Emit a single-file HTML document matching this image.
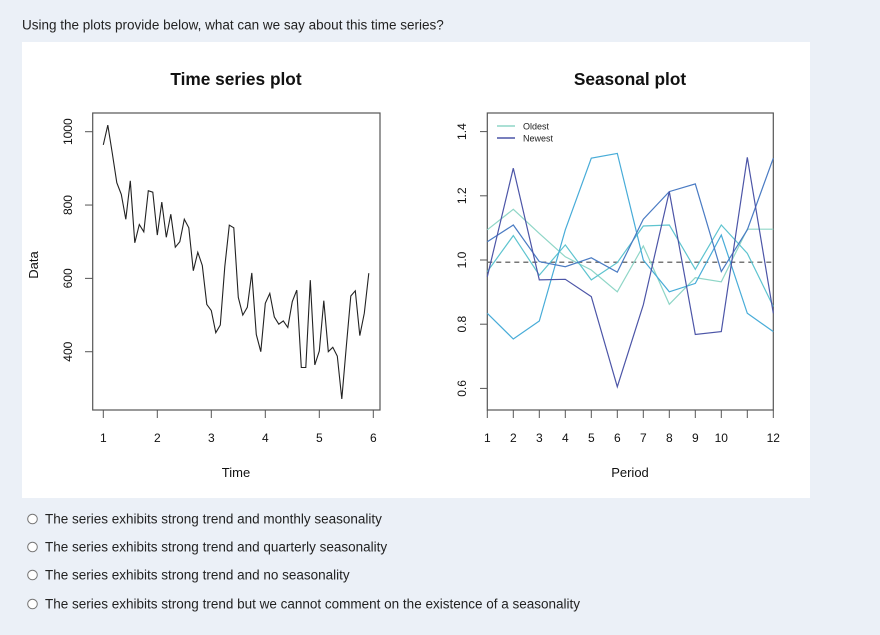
<!DOCTYPE html>
<html><head><meta charset="utf-8"><style>
html,body{margin:0;padding:0;background:#ebf0f7;}
svg{display:block;font-family:"Liberation Sans",Arial,sans-serif;}
</style></head><body>
<svg id="chart" width="880" height="635" viewBox="0 0 880 635">
<rect x="0" y="0" width="880" height="635" fill="#ebf0f7"/>
<text x="22" y="29.5" font-size="13.5" fill="#222">Using the plots provide below, what can we say about this time series?</text>
<rect x="22" y="42" width="788" height="456" fill="#fff"/>
<g id="ts"></g>
<g id="sp"></g>
<g>
 <g><circle cx="32.5" cy="519" r="4.8" fill="#fff" stroke="#777" stroke-width="1"/><text x="45" y="523.5" font-size="13.5" fill="#222">The series exhibits strong trend and monthly seasonality</text></g>
 <g><circle cx="32.5" cy="547" r="4.8" fill="#fff" stroke="#777" stroke-width="1"/><text x="45" y="551.5" font-size="13.5" fill="#222">The series exhibits strong trend and quarterly seasonality</text></g>
 <g><circle cx="32.5" cy="575" r="4.8" fill="#fff" stroke="#777" stroke-width="1"/><text x="45" y="579.5" font-size="13.5" fill="#222">The series exhibits strong trend and no seasonality</text></g>
 <g><circle cx="32.5" cy="604" r="4.8" fill="#fff" stroke="#777" stroke-width="1"/><text x="45" y="608.5" font-size="13.5" fill="#222">The series exhibits strong trend but we cannot comment on the existence of a seasonality</text></g>
</g>
</svg>
<script>
// Time series data (monthly, starting at t=1)
const tsValues = [964,1018,941,861,829,761,866,697,747,727,839,835,718,808,712,775,685,700,761,738,621,671,635,529,512,452,473,632,745,738,548,500,521,615,447,400,532,559,495,475,484,466,537,568,357,357,595,364,402,539,400,412,388,271,414,552,566,444,505,614];
const tsXTicks = [1,2,3,4,5,6];
const tsYTicks = [400,600,800,1000];
// Seasonal plot data
const periods = [1,2,3,4,5,6,7,8,9,10,11,12];
const periodLabels = ["1","2","3","4","5","6","7","8","9","10","","12"];
const year1 = [1.094,1.158,1.083,1.010,0.969,0.901,1.044,0.862,0.945,0.932,1.096,1.096];
const year2 = [0.964,1.076,0.953,1.047,0.938,0.992,1.106,1.109,0.971,1.109,1.021,0.855];
const year3 = [0.834,0.754,0.810,1.094,1.317,1.332,1.000,0.901,0.927,1.078,0.834,0.777];
const year4 = [1.057,1.109,0.995,0.979,1.007,0.962,1.127,1.213,1.237,0.964,1.094,1.317];
const year5 = [0.948,1.286,0.938,0.940,0.886,0.605,0.860,1.213,0.768,0.777,1.320,0.834];
const seasonalYTicks = [0.6,0.8,1.0,1.2,1.4];
const seasonalYTickLabels = ["0.6","0.8","1.0","1.2","1.4"];
const meanLevel = 0.993;

const NS='http://www.w3.org/2000/svg';
function mk(parent,tag,attrs,txt){const e=document.createElementNS(NS,tag);for(const k in attrs)e.setAttribute(k,attrs[k]);if(txt!==undefined)e.textContent=txt;parent.appendChild(e);return e;}

// ---- Time series plot ----
const ts=document.getElementById('ts');
const tx=t=>103.3+(t-1)*54;
const ty=v=>131.7+(1000-v)*0.3667;
let e;
e=mk(ts,'text',{x:236,y:85,'font-size':17.3,'font-weight':'bold','text-anchor':'middle',fill:'#111'},'Time series plot');


e=mk(ts,'rect',{x:92.7,y:113,width:287.3,height:297,fill:'none',stroke:'#555','stroke-width':1.2});


tsYTicks.forEach(v=>{
 e=mk(ts,'line',{x1:85,x2:92.7,y1:ty(v),y2:ty(v),stroke:'#555'});
 
 
 e=mk(ts,'text',{x:72,y:ty(v),'font-size':12,'text-anchor':'middle',transform:`rotate(-90 72 ${ty(v)})`,fill:'#111'},String(v));
 
 
});
tsXTicks.forEach(t=>{
 e=mk(ts,'line',{x1:tx(t),x2:tx(t),y1:410,y2:418,stroke:'#555'});
 
 
 e=mk(ts,'text',{x:tx(t),y:442,'font-size':12,'text-anchor':'middle',fill:'#111'},String(t));
 
 
});
e=mk(ts,'text',{x:236,y:477,'font-size':13,'text-anchor':'middle',fill:'#111'},'Time');


e=mk(ts,'text',{x:38,y:265,'font-size':13,'text-anchor':'middle',transform:'rotate(-90 38 265)',fill:'#111'},'Data');


e=mk(ts,'polyline',{points:tsValues.map((v,i)=>tx(1+i/12).toFixed(1)+','+ty(v).toFixed(1)).join(' '),fill:'none',stroke:'#222','stroke-width':1.1});



// ---- Seasonal plot ----
const sp=document.getElementById('sp');
const sx=p=>487.3+(p-1)*26;
const sy=v=>260-(v-1)*321;
e=mk(sp,'text',{x:630,y:85,'font-size':17.3,'font-weight':'bold','text-anchor':'middle',fill:'#111'},'Seasonal plot');


e=mk(sp,'rect',{x:487.3,y:113,width:286,height:297,fill:'none',stroke:'#555','stroke-width':1.2});


seasonalYTicks.forEach((v,i)=>{
 e=mk(sp,'line',{x1:480,x2:487.3,y1:sy(v),y2:sy(v),stroke:'#555'});
 
 
 e=mk(sp,'text',{x:466,y:sy(v),'font-size':12,'text-anchor':'middle',transform:`rotate(-90 466 ${sy(v)})`,fill:'#111'},seasonalYTickLabels[i]);
 
 
});
periods.forEach((p,i)=>{
 e=mk(sp,'line',{x1:sx(p),x2:sx(p),y1:410,y2:418,stroke:'#555'});
 
 
 if(periodLabels[i]){
  e=mk(sp,'text',{x:sx(p),y:442,'font-size':12,'text-anchor':'middle',fill:'#111'},periodLabels[i]);
  
  
 }
});
e=mk(sp,'text',{x:630,y:477,'font-size':13,'text-anchor':'middle',fill:'#111'},'Period');


e=mk(sp,'line',{x1:487.3,x2:773.3,y1:sy(meanLevel),y2:sy(meanLevel),stroke:'#777','stroke-width':1.5,'stroke-dasharray':'5,4'});


const years=[year1,year2,year3,year4,year5];
const colors=['#8fd6c7','#5ec4cf','#48acd8','#4a7bc3','#4c55a7'];
years.forEach((ys,k)=>{
 e=mk(sp,'polyline',{points:ys.map((v,i)=>sx(periods[i]).toFixed(1)+','+sy(v).toFixed(1)).join(' '),fill:'none',stroke:colors[k],'stroke-width':1.2});
 
 
});
// legend
e=mk(sp,'line',{x1:497,x2:515,y1:126,y2:126,stroke:colors[0],'stroke-width':1.6});


e=mk(sp,'text',{x:523,y:129.5,'font-size':9,fill:'#222'},'Oldest');


e=mk(sp,'line',{x1:497,x2:515,y1:138,y2:138,stroke:colors[4],'stroke-width':1.6});


e=mk(sp,'text',{x:523,y:141.5,'font-size':9,fill:'#222'},'Newest');


</script>
</body></html>
